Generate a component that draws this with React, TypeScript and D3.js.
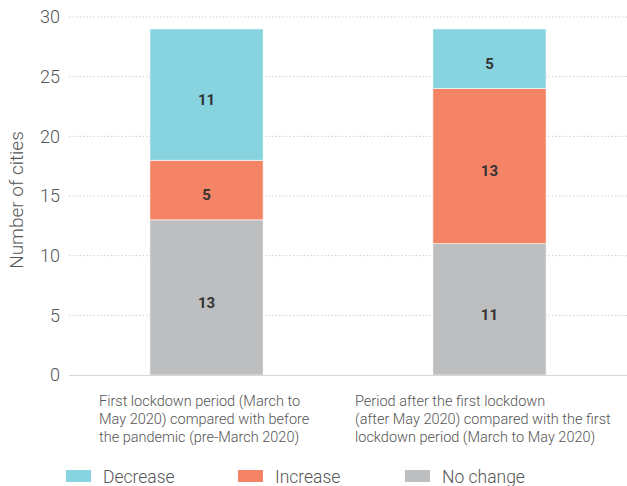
import React from "react";
import * as d3 from "d3";

const categories = ["cat1", "cat2"];
const categoryLabels = [
  ["First lockdown period (March to", "May 2020) compared with before", "the pandemic (pre-March 2020)"],
  ["Period after the first lockdown", "(after May 2020) compared with the first", "lockdown period (March to May 2020)"],
];
const seriesNames = ["No change", "Increase", "Decrease"];
const noChange = [13, 11];
const increase = [5, 13];
const decrease = [11, 5];
const yTicks = [0, 5, 10, 15, 20, 25, 30];
const colors: Record<string, string> = {
  "No change": "#bdbec0",
  Increase: "#f58466",
  Decrease: "#88d3e0",
};
const legendOrder = ["Decrease", "Increase", "No change"];

const W = 627;
const H = 486;
const FONT = "Roboto, 'Liberation Sans', sans-serif";

export default function App() {
  const x = d3.scaleBand<string>().domain(categories).range([69, 627]).paddingInner(0.6).paddingOuter(0.286);
  const y = d3.scaleLinear().domain([0, 30]).range([375, 17]);
  const rows = categories.map((c, i) => ({
    cat: c,
    "No change": noChange[i],
    Increase: increase[i],
    Decrease: decrease[i],
  }));
  const stack = d3.stack<any>().keys(seriesNames)(rows);
  const legendX = [66, 238, 405];

  return (
    <svg width={W} height={H} style={{ position: "absolute", left: 0, top: 0, background: "#fff" }}>
      {yTicks.map((t) =>
        t === 0 ? null : (
          <line key={t} x1={69} x2={627} y1={y(t)} y2={y(t)} stroke="#cfcfcf" strokeWidth={1} strokeDasharray="1.5,2" />
        )
      )}
      {stack.map((s) => (
        <g key={s.key}>
          {s.map((d, i) => (
            <g key={i}>
              <rect
                x={x(categories[i])!}
                y={y(d[1])}
                width={x.bandwidth()}
                height={y(d[0]) - y(d[1])}
                fill={colors[s.key]}
                stroke="#fff"
                strokeWidth={0.6}
              />
              <text
                x={x(categories[i])! + x.bandwidth() / 2}
                y={(y(d[0]) + y(d[1])) / 2 + 5}
                dy="0.35em"
                textAnchor="middle"
                fontFamily={FONT}
                fontWeight={700}
                fontSize={15}
                fill="#333"
              >
                {d[1] - d[0]}
              </text>
            </g>
          ))}
        </g>
      ))}
      <line x1={69} x2={627} y1={y(0) + 0.5} y2={y(0) + 0.5} stroke="#d6d6d6" strokeWidth={1.2} />
      {yTicks.map((t) => (
        <text key={t} x={60} y={y(t)} dy="0.35em" textAnchor="end" fontFamily={FONT} fontWeight={300} fontSize={18} fill="#555">
          {t}
        </text>
      ))}
      <text
        transform={`translate(23,${200}) rotate(-90)`}
        textAnchor="middle"
        fontFamily={FONT}
        fontWeight={300}
        fontSize={19}
        fill="#555"
      >
        Number of cities
      </text>
      {categoryLabels.map((lines, i) => (
        <text key={i} fontFamily={FONT} fontWeight={300} fontSize={14.5} fill="#555">
          {lines.map((l, j) => (
            <tspan key={j} x={i === 0 ? 99 : 355} y={406 + j * 18}>
              {l}
            </tspan>
          ))}
        </text>
      ))}
      {legendOrder.map((k, i) => (
        <g key={k}>
          <rect x={legendX[i]} y={470} width={25} height={12} fill={colors[k]} />
          <text x={legendX[i] + 37} y={476.5} dy="0.35em" fontFamily={FONT} fontWeight={300} fontSize={17.5} fill="#555">
            {k}
          </text>
        </g>
      ))}
    </svg>
  );
}
